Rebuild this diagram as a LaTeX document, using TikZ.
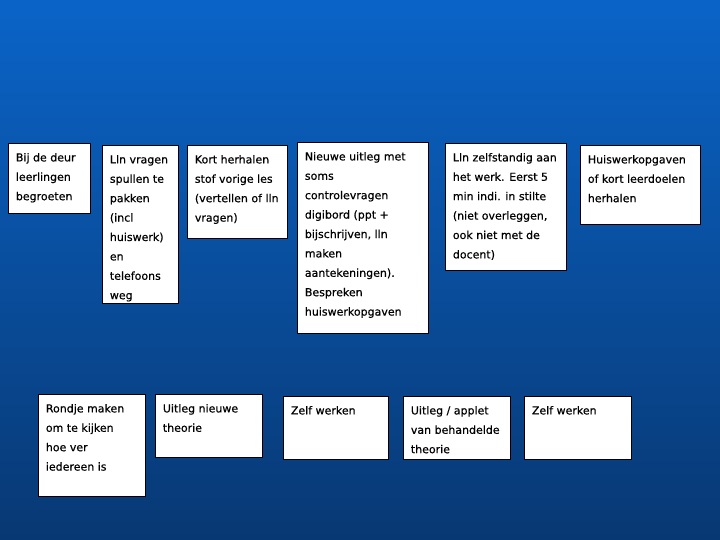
\documentclass[tikz,border=0pt]{standalone}
\usepackage{fontspec}
\setmainfont[FakeBold=0.5]{DejaVu Sans}
\definecolor{bgtop}{RGB}{10,100,200}
\definecolor{bgbot}{RGB}{8,56,115}
\newcommand\bxt[3]{\parbox[c][#2][t]{#1}{\fontsize{11}{19.4}\selectfont\raggedright\leftskip=7.5pt\parindent=0pt\rule{0pt}{18pt}#3}}
\tikzset{card/.style={draw=black, line width=0.8pt, fill=white, inner sep=0pt, anchor=north west}}
\begin{document}
\begin{tikzpicture}[x=1pt,y=-1pt]
\useasboundingbox (0,0) rectangle (720,540);
\shade[top color=bgtop, bottom color=bgbot] (0,0) rectangle (720,540);
\node[card] (b1) at (8,143) {\bxt{82pt}{70pt}{Bij de deur\\leerlingen\\begroeten}};
\node[card] (b2) at (102,145) {\bxt{76pt}{158pt}{Lln vragen\\spullen te\\pakken\\(incl\\huiswerk)\\en\\telefoons\\weg}};
\node[card] (b3) at (187,145) {\bxt{100pt}{93pt}{Kort herhalen\\stof vorige les\\(vertellen of lln\\vragen)}};
\node[card] (b4) at (297,142) {\bxt{131pt}{191pt}{Nieuwe uitleg met\\soms\\controlevragen\\digibord (ppt +\\bijschrijven, lln\\maken\\aantekeningen).\\Bespreken\\huiswerkopgaven}};
\node[card] (b5) at (445,143) {\bxt{121pt}{127pt}{Lln zelfstandig aan\\het werk. Eerst 5\\min indi. in stilte\\(niet overleggen,\\ook niet met de\\docent)}};
\node[card] (b6) at (580,145) {\bxt{120pt}{79pt}{Huiswerkopgaven\\of kort leerdoelen\\herhalen}};
\node[card] (b7) at (38,394) {\bxt{107pt}{102pt}{Rondje maken\\om te kijken\\hoe ver\\iedereen is}};
\node[card] (b8) at (155,394) {\bxt{107pt}{63pt}{Uitleg nieuwe\\theorie}};
\node[card] (b9) at (283,396) {\bxt{105pt}{63pt}{Zelf werken}};
\node[card] (b10) at (403,396) {\bxt{107pt}{63pt}{Uitleg / applet\\van behandelde\\theorie}};
\node[card] (b11) at (524,396) {\bxt{107pt}{63pt}{Zelf werken}};
\end{tikzpicture}
\end{document}
